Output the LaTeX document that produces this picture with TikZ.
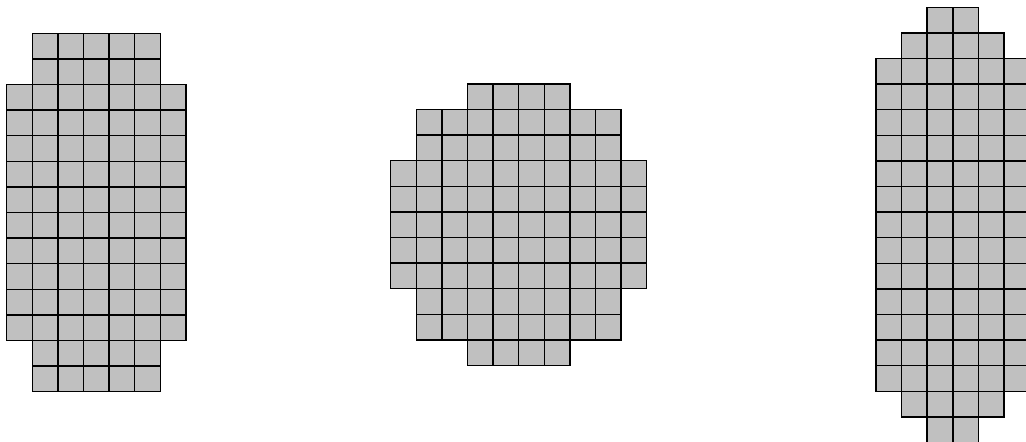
\documentclass[tikz,border=0pt]{standalone}
\usepackage{xcolor}
\usepackage{tikz}

\definecolor{cellgray}{RGB}{192,192,192}

\begin{document}
\begin{tikzpicture}[
    x=0.5cm, y=-0.5cm,
    cellfill/.style={fill=cellgray},
    celledge/.style={draw=black, line width=0.8pt}
  ]
    \clip (0,0) rectangle (40.08,17.23);
    % each blob: shift, then rows from/to with columns from/to
    \foreach \px/\py/\rows in {
        0.26/1.30/{0/1/1/5, 2/11/0/6, 12/13/1/5},
        15.26/3.28/{0/0/3/6, 1/2/1/8, 3/7/0/9, 8/9/1/8, 10/10/3/6},
        34.22/0.285/{0/0/2/3, 1/1/1/4, 2/14/0/5, 15/15/1/4, 16/16/2/3}}
    {
      \begin{scope}[shift={(\px,\py)}]
        % fill first, edges on top
        \foreach \ra/\rb/\ca/\cb in \rows
          \foreach \r in {\ra,...,\rb}
            \foreach \c in {\ca,...,\cb}
              \fill[cellfill] (\c,\r) rectangle ++(1,1);
        \foreach \ra/\rb/\ca/\cb in \rows
          \foreach \r in {\ra,...,\rb}
            \foreach \c in {\ca,...,\cb}
              \draw[celledge] (\c,\r) rectangle ++(1,1);
      \end{scope}
    }
  \end{tikzpicture}
\end{document}
